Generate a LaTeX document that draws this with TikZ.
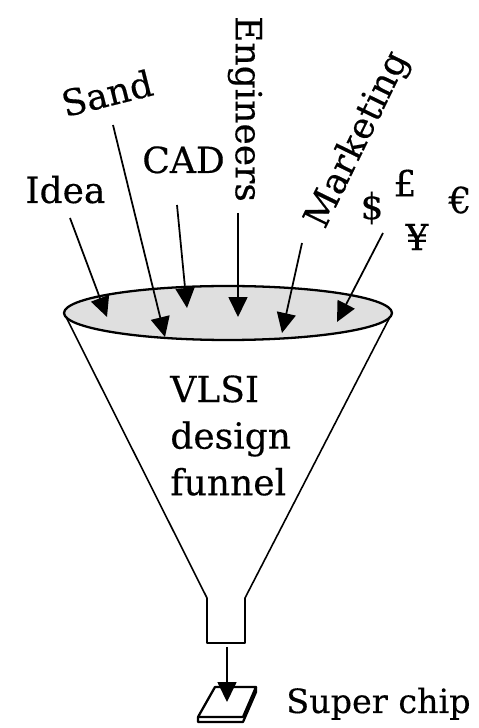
\documentclass[tikz,border=0pt]{standalone}
\usepackage{fontspec}
\setmainfont{DejaVu Serif}
\newfontfamily\lblfont{DejaVu Serif}[BoldFont={DejaVu Serif}, BoldFeatures={FakeBold=0.35}]
\usetikzlibrary{positioning, arrows.meta}

\tikzset{
  lbl/.style={inner sep=0pt, font=\lblfont\bfseries\fontsize{20.5}{26.5}\selectfont},
  feed/.style={-{Triangle[length=4mm,width=3.8mm]}, line width=1pt},
}

\begin{document}
\begin{tikzpicture}[x=0.02cm, y=0.02cm, line join=round]
    \useasboundingbox (0,0) rectangle (479,728);

    % --- Funnel outline ---
    \coordinate (mouthL) at (64,415);
    \coordinate (mouthR) at (392,415);
    \coordinate (neckL) at (207,130);
    \coordinate (neckR) at (245,130);
    \coordinate (spoutL) at (207,85);
    \coordinate (spoutR) at (245,85);
    \draw[line width=0.9pt] (mouthL) -- (neckL) -- (spoutL) -- (spoutR) -- (neckR) -- (mouthR);

    % --- Funnel mouth (shaded ellipse) ---
    \draw[line width=1.3pt, fill=gray!25] (228,415) ellipse [x radius=3.28cm, y radius=0.54cm];

    % --- Inputs ---
    \node[lbl, anchor=base west] (idea) at (25,525) {Idea};
    \node[lbl, rotate=14] (sand) at (107,635) {Sand};
    \node[lbl, anchor=base west] (cad) at (142,555) {CAD};
    \node[lbl, rotate=-90] (eng) at (245,619) {Engineers};
    \node[lbl, rotate=64] (mkt) at (358,588) {Marketing};
    \node[lbl] (dollar) at (372,520) {\$};
    \node[lbl] (pound) at (405,545) {£};
    \node[lbl] (yen) at (417,491) {¥};
    \node[lbl] (euro) at (460,528) {€};

    % --- Feed arrows into the mouth ---
    \coordinate (ideaTail) at (70,510);   \coordinate (ideaTip) at (107,411);
    \coordinate (sandTail) at (113,603);  \coordinate (sandTip) at (165,391);
    \coordinate (cadTail) at (177,523);   \coordinate (cadTip) at (187,420);
    \coordinate (engTail) at (238,515);   \coordinate (engTip) at (238,411);
    \coordinate (mktTail) at (302,485);   \coordinate (mktTip) at (282,395);
    \coordinate (cashTail) at (383,495);  \coordinate (cashTip) at (337,406);
    \draw[feed] (ideaTail) -- (ideaTip);
    \draw[feed] (sandTail) -- (sandTip);
    \draw[feed] (cadTail) -- (cadTip);
    \draw[feed] (engTail) -- (engTip);
    \draw[feed] (mktTail) -- (mktTip);
    \draw[feed] (cashTail) -- (cashTip);

    % --- Funnel label ---
    \node[lbl, align=left, anchor=north west] (vlsi) at (170,353) {VLSI\\design\\funnel};

    % --- Output chip ---
    \coordinate (spoutOut) at (227,81);
    \coordinate (chipTop) at (227,26);
    \draw[line width=1.3pt, fill=white] (215,41) -- (256,41) -- (243,11) -- (198,11) -- cycle;
    \draw[line width=1.3pt] (198,11) -- (198,6) -- (243,6) -- (256,36) -- (256,41);
    \draw[feed] (spoutOut) -- (chipTop);
    \node[lbl, anchor=base west, font=\lblfont\bfseries\fontsize{19}{24}\selectfont] (chip) at (286,15) {Super chip};

\end{tikzpicture}
\end{document}
